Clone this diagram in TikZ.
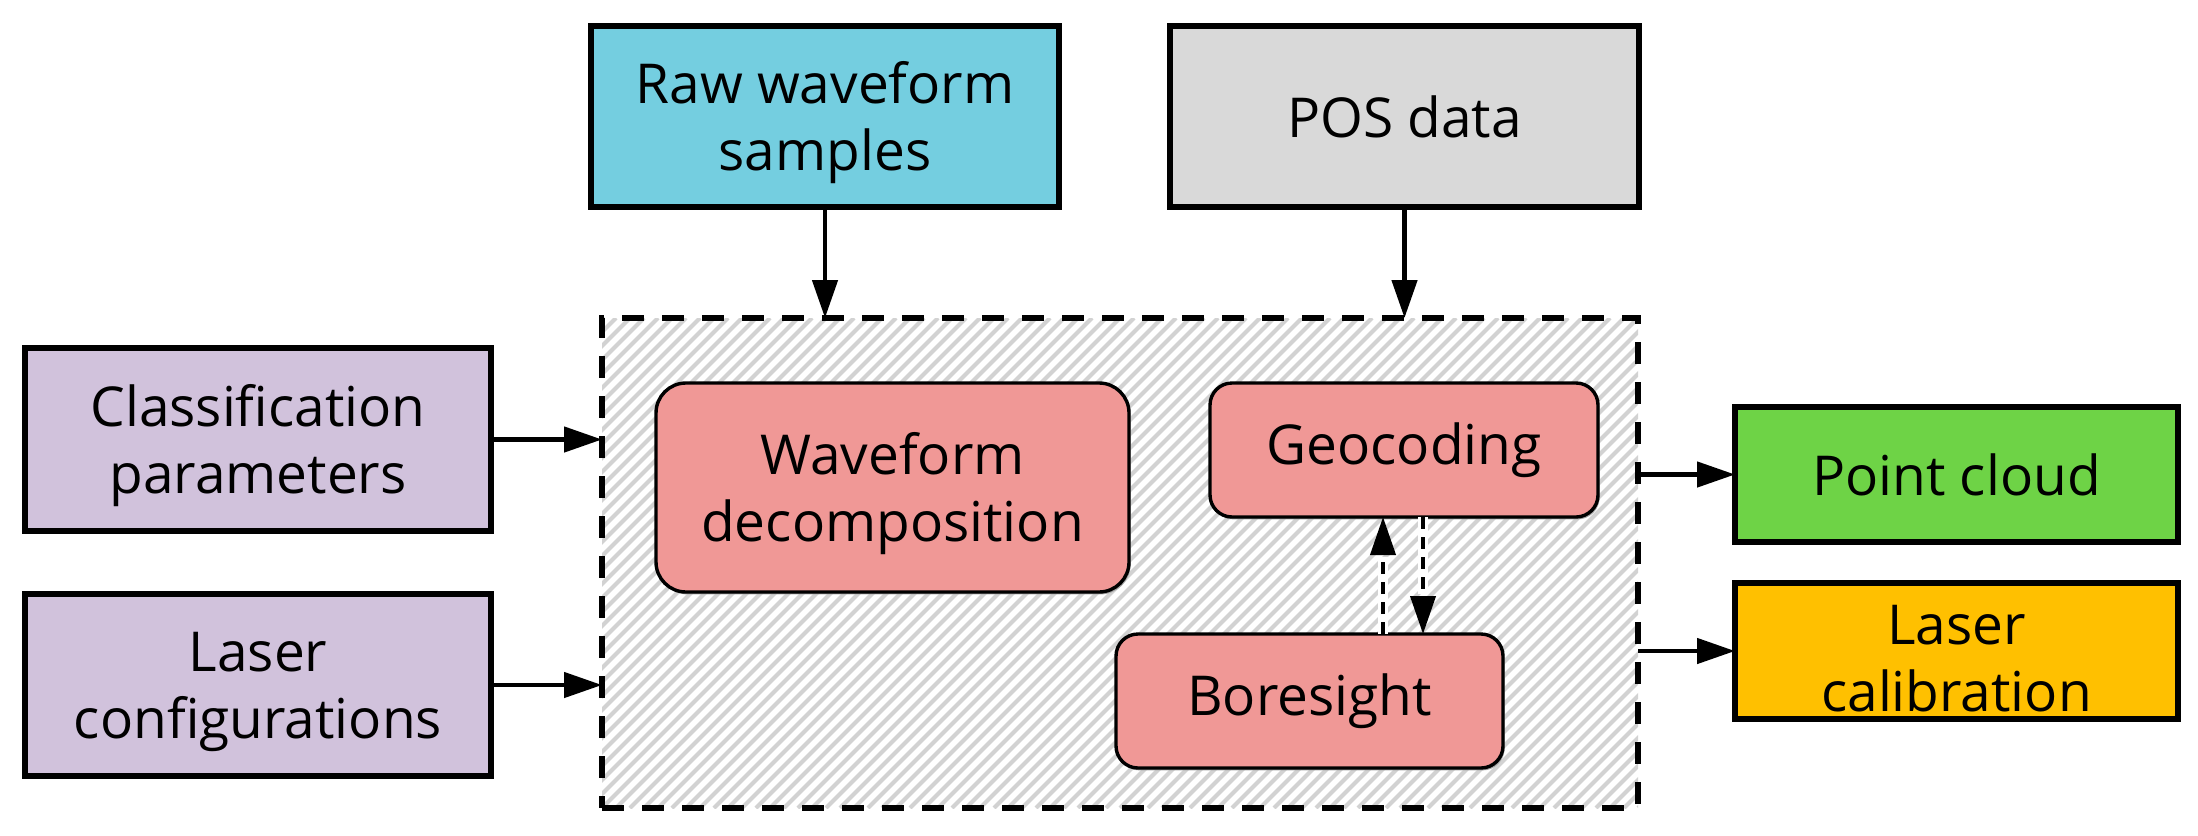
\documentclass[tikz,border=0pt]{standalone}
\usepackage{fontspec}
\setmainfont{Open Sans}
\usetikzlibrary{arrows.meta,shadows}
\definecolor{cyanbox}{RGB}{116,206,224}
\definecolor{graybox}{RGB}{217,217,217}
\definecolor{lavbox}{RGB}{209,194,220}
\definecolor{salmonbox}{RGB}{240,152,150}
\definecolor{greenbox}{RGB}{110,211,70}
\definecolor{orangebox}{RGB}{255,192,0}
\definecolor{hatchgray}{RGB}{210,210,210}
\newcommand\mytopfix{\rule{0pt}{27pt}}
\begin{document}
\begin{tikzpicture}[x=0.5pt,y=-0.5pt,
  font=\fontsize{27.5}{33.5}\selectfont,
  shad/.style={drop shadow={shadow xshift=0.8pt,shadow yshift=-1.2pt,fill=black!35,opacity=1}},
  sqbox/.style={draw=black,line width=2.7pt,inner sep=0pt,outer sep=0pt,align=center,shad},
  rbox/.style={draw=black,line width=1.7pt,fill=salmonbox,rounded corners=11pt,inner sep=0pt,outer sep=0pt,align=center,shad},
  contbox/.style={draw=black,line width=3pt,dash pattern=on 11pt off 9pt,inner sep=0pt,outer sep=0pt},
  arr/.style={line width=2.3pt,-{Triangle[length=19pt,width=12.5pt]}},
  darr/.style={line width=2pt,dash pattern=on 6pt off 4pt,-{Triangle[length=19pt,width=12.5pt]}},
  halo/.style={white,line width=4.8pt}]
\useasboundingbox (0,0) rectangle (2198,835);
% hatched container background
\begin{scope}
  \clip (602,318) rectangle (1638,808);
  \fill[white] (602,318) rectangle (1638,808);
  \foreach \k in {0,...,110}
    \draw[hatchgray,line width=2pt] ({112+14*\k},808) -- ({602+14*\k},318);
\end{scope}
\node[contbox,minimum width=518pt,minimum height=245pt] (cont) at (1120,563) {};
% input boxes
\node[sqbox,fill=cyanbox,minimum width=234pt,minimum height=90.5pt] (raw) at (825,116.5) {\mytopfix Raw waveform\\samples};
\node[sqbox,fill=graybox,minimum width=234.5pt,minimum height=90.5pt] (pos) at (1404.5,116.5) {POS data};
\node[sqbox,fill=lavbox,minimum width=233pt,minimum height=91.5pt] (cls) at (258,439.5) {\mytopfix Classification\\parameters};
\node[sqbox,fill=lavbox,minimum width=233pt,minimum height=91pt] (lcfg) at (258,685) {\mytopfix Laser\\configurations};
% inner process boxes
\node[rbox,rounded corners=15pt,minimum width=236.5pt,minimum height=104.5pt] (wd) at (892.5,487.5) {\mytopfix Waveform\\decomposition};
\node[rbox,minimum width=194pt,minimum height=67pt] (geo) at (1404,450) {Geocoding};
\node[rbox,minimum width=193.5pt,minimum height=67pt] (bore) at (1309.5,701) {Boresight};
% outputs
\node[sqbox,fill=greenbox,minimum width=221.5pt,minimum height=67.5pt] (pc) at (1956.5,474.5) {Point cloud};
\node[sqbox,fill=orangebox,minimum width=221.5pt,minimum height=68pt] (lcal) at (1956.5,651) {\mytopfix Laser\\calibration};
% connectors
\draw[arr] (raw) -- (raw |- cont.north);
\draw[arr] (pos) -- (pos |- cont.north);
\draw[arr] (cls) -- (cls -| cont.west);
\draw[arr] (lcfg) -- (lcfg -| cont.west);
\draw[arr] (cont.east |- pc) -- (pc);
\draw[arr] (cont.east |- lcal) -- (lcal);
\coordinate (upx) at (1383,0);
\coordinate (dnx) at (1423,0);
\draw[halo] (bore.north -| upx) -- ([yshift=-20pt]geo.south -| upx);
\draw[halo] ([yshift=20pt]bore.north -| dnx) -- (geo.south -| dnx);
\draw[darr] (bore.north -| upx) -- (geo.south -| upx);
\draw[darr] (geo.south -| dnx) -- (bore.north -| dnx);
\end{tikzpicture}
\end{document}
